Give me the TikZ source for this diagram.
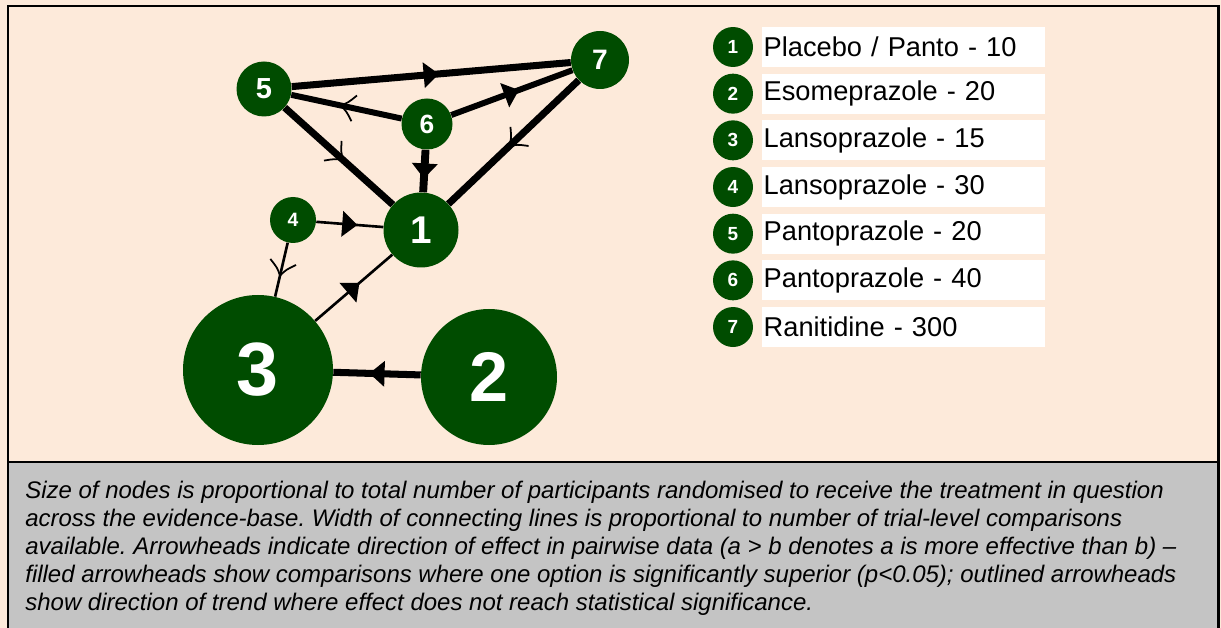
\documentclass[tikz,border=0pt]{standalone}
\usepackage{fontspec}
\setmainfont{Liberation Sans}
\usetikzlibrary{positioning,decorations.markings}
\definecolor{peach}{RGB}{253,234,218}
\definecolor{nodegreen}{RGB}{0,76,0}
\definecolor{capgrey}{RGB}{196,196,196}
\newcommand{\fsz}[1]{\fontsize{#1}{#1}\selectfont}
\frenchspacing
\tikzset{
	drug/.style={circle,fill=nodegreen,inner sep=0pt,minimum size=#1*0.02cm,text=white},
	sig/.style={postaction={decorate,decoration={markings,
		mark=at position 0.5 with {\fill (-4.3pt,-7.4pt) -- (4.3pt,0pt) -- (-4.3pt,7.4pt) -- cycle;}}}},
	trend/.style={postaction={decorate,decoration={markings,
		mark=at position 0.5 with {\draw[line width=1pt] (-4.5pt,7.5pt) .. controls (-0.5pt,2.5pt) .. (3.5pt,0pt) .. controls (-0.5pt,-2.5pt) .. (-4.5pt,-7.5pt);}}}},
	keydot/.style={circle,fill=nodegreen,inner sep=0pt,minimum size=0.8cm,text=white,font=\bfseries\fsz{10.8}},
	keybox/.style={fill=white,minimum height=0.8cm,text width=5.58cm,inner xsep=0.04cm,align=left,font=\fsz{15.5}},
}
\begin{document}
\begin{tikzpicture}[x=0.02cm,y=-0.02cm]
	\useasboundingbox (0,0) rectangle (1221,628);
	\fill[peach] (0,0) rectangle (1221,628);
	\fill[capgrey] (8,462) rectangle (1218,628);
	\draw[line width=1pt] (8,462) -- (1218,462);
	\draw[line width=1.7pt] (8,628) -- (8,6) -- (1218,6) -- (1218,628);
	% treatments
	\node[drug=55,font=\bfseries\fsz{16.5}] (n5) at (264,89) {5};
	\node[drug=58,font=\bfseries\fsz{16}] (n7) at (600,60) {7};
	\node[drug=51,font=\bfseries\fsz{15}] (n6) at (427,124) {6};
	\node[drug=75,font=\bfseries\fsz{22}] (n1) at (421,230) {1};
	\node[drug=46,font=\bfseries\fsz{11}] (n4) at (293,220) {4};
	\node[drug=150,font=\bfseries\fsz{43}] (n3) at (258,370) {3};
	\node[drug=136,font=\bfseries\fsz{40}] (n2) at (489,377) {2};
	% comparisons
	\draw[line width=4pt,sig] (n5) -- (n7);
	\draw[line width=3.4pt,trend] (n6) -- (n5);
	\draw[line width=3.4pt,sig] (n6) -- (n7);
	\draw[line width=4pt,trend] (n5) -- (n1);
	\draw[line width=4.5pt,sig] (n6) -- (n1);
	\draw[line width=4pt,trend] (n7) -- (n1);
	\draw[line width=1.5pt,sig] (n4) -- (n1);
	\draw[line width=1.5pt,trend] (n4) -- (n3);
	\draw[line width=1.5pt,sig] (n3) -- (n1);
	\draw[line width=4pt,sig] (n2) -- (n3);
	% key
	\foreach \name [count=\i] in {{Placebo / Panto - 10},{Esomeprazole - 20},{Lansoprazole - 15},{Lansoprazole - 30},{Pantoprazole - 20},{Pantoprazole - 40},{Ranitidine - 300}}{
		\node[keydot] (k\i) at (733,{47+46.67*(\i-1)}) {\i};
		\node[keybox,right=0.16cm of k\i] (t\i) {\name};
	}
	% caption
	\node[anchor=north west,inner sep=0pt,align=left,font=\itshape\fontsize{13.65}{15.9}\selectfont] (cap) at (25,481)
		{Size of nodes is proportional to total number of participants randomised to receive the treatment in question\\
		across the evidence-base. Width of connecting lines is proportional to number of trial-level comparisons\\
		available. Arrowheads indicate direction of effect in pairwise data (a > b denotes a is more effective than b) –\\
		filled arrowheads show comparisons where one option is significantly superior (p<0.05); outlined arrowheads\\
		show direction of trend where effect does not reach statistical significance.};
\end{tikzpicture}
\end{document}
